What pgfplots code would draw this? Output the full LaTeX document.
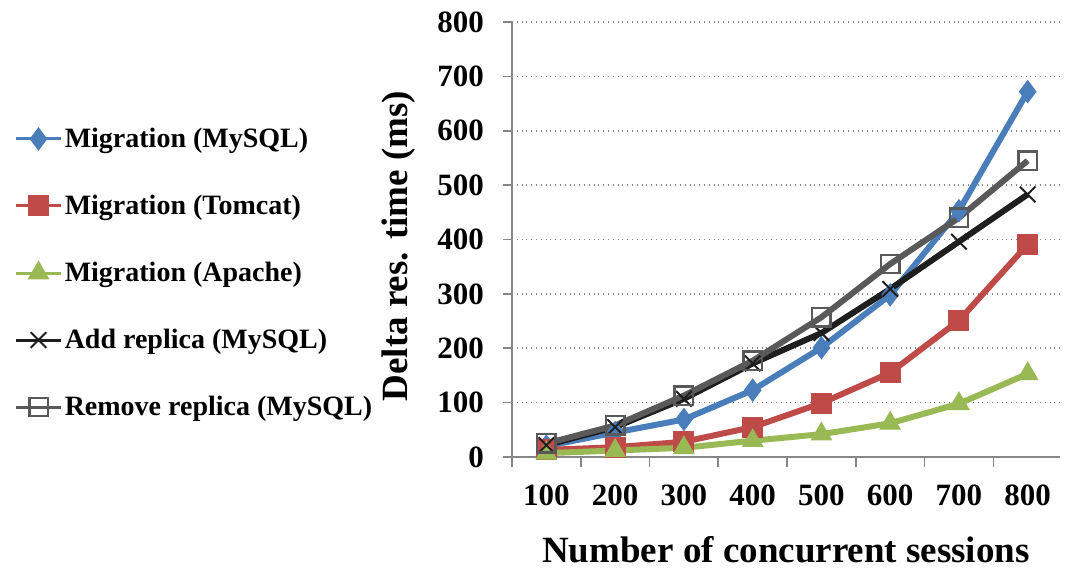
\documentclass[border=0pt]{standalone}
\usepackage{pgfplots}
\pgfplotsset{compat=1.18}
\usepackage{fontspec}
\setmainfont{Liberation Serif}
\definecolor{cblue}{HTML}{4A7EBB}
\definecolor{cred}{HTML}{BE4B48}
\definecolor{cgreen}{HTML}{98B954}
\definecolor{cblack}{HTML}{1E1E1E}
\definecolor{cgray}{HTML}{595959}
\definecolor{axgray}{HTML}{868686}
\begin{document}
\begin{tikzpicture}
\path[use as bounding box] (-256pt,-56.5pt) rectangle (276.5pt,228.5pt);
\begin{axis}[
  at={(0,0)}, anchor=south west,
  scale only axis, width=274pt, height=217.5pt,
  xmin=50, xmax=847, ymin=0, ymax=800,
  xtick={100,200,...,800},
  xticklabels={100,200,300,400,500,600,700,800},
  minor xtick={50,150,...,750},
  ytick={0,100,...,800},
  axis x line*=bottom, axis y line*=left,
  axis line style={axgray, line width=1pt, -},
  tick align=outside,
  major tick length=4.5pt, minor tick length=5pt,
  major x tick style={draw=none},
  every tick/.style={axgray, line width=0.8pt},
  minor tick style={axgray, line width=0.8pt},
  ymajorgrids, major grid style={axgray, dotted, line width=0.8pt},
  /pgf/number format/assume math mode=true,
  ticklabel style={font=\fontsize{15.5}{18}\selectfont\bfseries},
  xticklabel style={yshift=-6pt},
  yticklabel style={xshift=-6pt},
  xlabel={Number of concurrent sessions},
  ylabel={Delta res. time (ms)},
  label style={font=\fontsize{18.5}{22}\selectfont\bfseries},
  xlabel style={at={(axis description cs:0.5,-0.212)}, anchor=center},
  ylabel style={at={(axis description cs:-0.207,0.485)}, anchor=center},
  clip=false,
  legend cell align=left,
  legend style={at={(axis description cs:-0.909,0.423)}, anchor=west,
    draw=none, fill=none, row sep=18.3pt, inner sep=0pt,
    font=\fontsize{14}{16}\selectfont\bfseries,
    nodes={inner xsep=1pt}},
  legend image code/.code={\draw[mark repeat=2,mark phase=2,line width=1.5pt] plot coordinates {(0cm,0cm) (0.4cm,0cm) (0.8cm,0cm)};},
]
\addplot[cblue, line width=3pt, mark=diamond*, mark size=5.5pt, mark options={fill=cblue, draw=cblue, line width=0.5pt}]
 coordinates {(100,20) (200,45) (300,69) (400,123) (500,201) (600,298) (700,453) (800,672)};
\addlegendentry{Migration (MySQL)}
\addplot[cred, line width=3pt, mark=square*, mark size=5pt, mark options={fill=cred, draw=cred, line width=0.5pt}]
 coordinates {(100,13) (200,18) (300,28) (400,55) (500,99) (600,155) (700,251) (800,391)};
\addlegendentry{Migration (Tomcat)}
\addplot[cgreen, line width=3pt, mark=triangle*, mark size=5.8pt, mark options={fill=cgreen, draw=cgreen, line width=0.5pt}]
 coordinates {(100,7) (200,12) (300,17) (400,30) (500,42) (600,62) (700,98) (800,153)};
\addlegendentry{Migration (Apache)}
\addplot[cblack, line width=3pt, mark=x, mark size=5.5pt, mark options={draw=cblack, line width=1pt}]
 coordinates {(100,22) (200,55) (300,107) (400,172) (500,228) (600,309) (700,396) (800,483)};
\addlegendentry{Add replica (MySQL)}
\addplot[cgray, line width=3pt, mark=square, mark size=4.6pt, mark options={draw=cgray, line width=1.2pt}]
 coordinates {(100,25) (200,58) (300,113) (400,177) (500,257) (600,355) (700,440) (800,545)};
\addlegendentry{Remove replica (MySQL)}
\end{axis}
\end{tikzpicture}
\end{document}
